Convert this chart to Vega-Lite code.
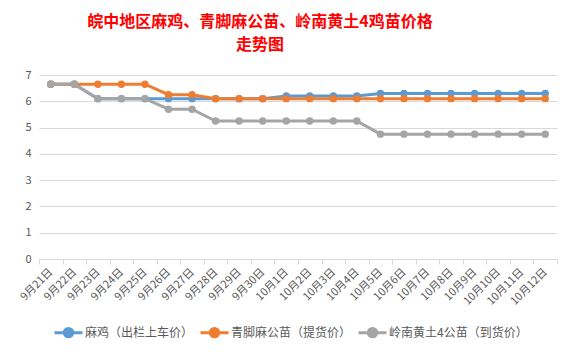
{
  "$schema": "https://vega.github.io/schema/vega-lite/v6.json",
  "width": 518,
  "height": 184,
  "autosize": {"type": "none"},
  "padding": {"left": 39, "top": 75, "right": 19, "bottom": 97},
  "background": "white",
  "config": {"font": "Noto Sans CJK SC", "view": {"stroke": null}},
  "title": {
    "text": ["皖中地区麻鸡、青脚麻公苗、岭南黄土4鸡苗价格", "走势图"],
    "color": "#FF0000",
    "fontSize": 16,
    "font": "Noto Sans CJK SC",
    "fontWeight": "bold",
    "anchor": "middle",
    "dx": -38,
    "offset": 16,
    "lineHeight": 23
  },
  "data": {
    "values": [
      {"date": "9月21日", "series": "麻鸡（出栏上车价）", "value": 6.65},
      {"date": "9月22日", "series": "麻鸡（出栏上车价）", "value": 6.65},
      {"date": "9月23日", "series": "麻鸡（出栏上车价）", "value": 6.1},
      {"date": "9月24日", "series": "麻鸡（出栏上车价）", "value": 6.1},
      {"date": "9月25日", "series": "麻鸡（出栏上车价）", "value": 6.1},
      {"date": "9月26日", "series": "麻鸡（出栏上车价）", "value": 6.1},
      {"date": "9月27日", "series": "麻鸡（出栏上车价）", "value": 6.1},
      {"date": "9月28日", "series": "麻鸡（出栏上车价）", "value": 6.1},
      {"date": "9月29日", "series": "麻鸡（出栏上车价）", "value": 6.1},
      {"date": "9月30日", "series": "麻鸡（出栏上车价）", "value": 6.1},
      {"date": "10月1日", "series": "麻鸡（出栏上车价）", "value": 6.2},
      {"date": "10月2日", "series": "麻鸡（出栏上车价）", "value": 6.2},
      {"date": "10月3日", "series": "麻鸡（出栏上车价）", "value": 6.2},
      {"date": "10月4日", "series": "麻鸡（出栏上车价）", "value": 6.2},
      {"date": "10月5日", "series": "麻鸡（出栏上车价）", "value": 6.3},
      {"date": "10月6日", "series": "麻鸡（出栏上车价）", "value": 6.3},
      {"date": "10月7日", "series": "麻鸡（出栏上车价）", "value": 6.3},
      {"date": "10月8日", "series": "麻鸡（出栏上车价）", "value": 6.3},
      {"date": "10月9日", "series": "麻鸡（出栏上车价）", "value": 6.3},
      {"date": "10月10日", "series": "麻鸡（出栏上车价）", "value": 6.3},
      {"date": "10月11日", "series": "麻鸡（出栏上车价）", "value": 6.3},
      {"date": "10月12日", "series": "麻鸡（出栏上车价）", "value": 6.3},
      {"date": "9月21日", "series": "青脚麻公苗（提货价）", "value": 6.65},
      {"date": "9月22日", "series": "青脚麻公苗（提货价）", "value": 6.65},
      {"date": "9月23日", "series": "青脚麻公苗（提货价）", "value": 6.65},
      {"date": "9月24日", "series": "青脚麻公苗（提货价）", "value": 6.65},
      {"date": "9月25日", "series": "青脚麻公苗（提货价）", "value": 6.65},
      {"date": "9月26日", "series": "青脚麻公苗（提货价）", "value": 6.25},
      {"date": "9月27日", "series": "青脚麻公苗（提货价）", "value": 6.25},
      {"date": "9月28日", "series": "青脚麻公苗（提货价）", "value": 6.1},
      {"date": "9月29日", "series": "青脚麻公苗（提货价）", "value": 6.1},
      {"date": "9月30日", "series": "青脚麻公苗（提货价）", "value": 6.1},
      {"date": "10月1日", "series": "青脚麻公苗（提货价）", "value": 6.1},
      {"date": "10月2日", "series": "青脚麻公苗（提货价）", "value": 6.1},
      {"date": "10月3日", "series": "青脚麻公苗（提货价）", "value": 6.1},
      {"date": "10月4日", "series": "青脚麻公苗（提货价）", "value": 6.1},
      {"date": "10月5日", "series": "青脚麻公苗（提货价）", "value": 6.1},
      {"date": "10月6日", "series": "青脚麻公苗（提货价）", "value": 6.1},
      {"date": "10月7日", "series": "青脚麻公苗（提货价）", "value": 6.1},
      {"date": "10月8日", "series": "青脚麻公苗（提货价）", "value": 6.1},
      {"date": "10月9日", "series": "青脚麻公苗（提货价）", "value": 6.1},
      {"date": "10月10日", "series": "青脚麻公苗（提货价）", "value": 6.1},
      {"date": "10月11日", "series": "青脚麻公苗（提货价）", "value": 6.1},
      {"date": "10月12日", "series": "青脚麻公苗（提货价）", "value": 6.1},
      {"date": "9月21日", "series": "岭南黄土4公苗（到货价）", "value": 6.65},
      {"date": "9月22日", "series": "岭南黄土4公苗（到货价）", "value": 6.65},
      {"date": "9月23日", "series": "岭南黄土4公苗（到货价）", "value": 6.1},
      {"date": "9月24日", "series": "岭南黄土4公苗（到货价）", "value": 6.1},
      {"date": "9月25日", "series": "岭南黄土4公苗（到货价）", "value": 6.1},
      {"date": "9月26日", "series": "岭南黄土4公苗（到货价）", "value": 5.7},
      {"date": "9月27日", "series": "岭南黄土4公苗（到货价）", "value": 5.7},
      {"date": "9月28日", "series": "岭南黄土4公苗（到货价）", "value": 5.25},
      {"date": "9月29日", "series": "岭南黄土4公苗（到货价）", "value": 5.25},
      {"date": "9月30日", "series": "岭南黄土4公苗（到货价）", "value": 5.25},
      {"date": "10月1日", "series": "岭南黄土4公苗（到货价）", "value": 5.25},
      {"date": "10月2日", "series": "岭南黄土4公苗（到货价）", "value": 5.25},
      {"date": "10月3日", "series": "岭南黄土4公苗（到货价）", "value": 5.25},
      {"date": "10月4日", "series": "岭南黄土4公苗（到货价）", "value": 5.25},
      {"date": "10月5日", "series": "岭南黄土4公苗（到货价）", "value": 4.75},
      {"date": "10月6日", "series": "岭南黄土4公苗（到货价）", "value": 4.75},
      {"date": "10月7日", "series": "岭南黄土4公苗（到货价）", "value": 4.75},
      {"date": "10月8日", "series": "岭南黄土4公苗（到货价）", "value": 4.75},
      {"date": "10月9日", "series": "岭南黄土4公苗（到货价）", "value": 4.75},
      {"date": "10月10日", "series": "岭南黄土4公苗（到货价）", "value": 4.75},
      {"date": "10月11日", "series": "岭南黄土4公苗（到货价）", "value": 4.75},
      {"date": "10月12日", "series": "岭南黄土4公苗（到货价）", "value": 4.75}
    ]
  },
  "encoding": {
    "x": {
      "field": "date",
      "type": "ordinal",
      "sort": null,
      "bandPosition": 0.5,
      "scale": {"type": "band", "paddingInner": 0, "paddingOuter": 0},
      "axis": {
        "title": null,
        "labelAngle": -45,
        "labelAlign": "right",
        "labelBaseline": "middle",
        "labelColor": "#595959",
        "labelFontSize": 11,
        "labelPadding": 6,
        "domainColor": "#D9D9D9",
        "tickColor": "#D9D9D9",
        "tickSize": 5,
        "tickBand": "extent",
        "grid": false
      }
    },
    "y": {
      "field": "value",
      "type": "quantitative",
      "scale": {"domain": [0, 7], "nice": false},
      "axis": {
        "title": null,
        "domain": false,
        "ticks": false,
        "values": [0, 1, 2, 3, 4, 5, 6, 7],
        "labelColor": "#595959",
        "labelFontSize": 11,
        "labelPadding": 8,
        "gridColor": "#D9D9D9",
        "gridWidth": 1
      }
    },
    "color": {
      "field": "series",
      "type": "nominal",
      "sort": null,
      "scale": {
        "domain": ["麻鸡（出栏上车价）", "青脚麻公苗（提货价）", "岭南黄土4公苗（到货价）"],
        "range": ["#5B9BD5", "#ED7D31", "#A5A5A5"]
      },
      "legend": {
        "title": null,
        "orient": "none",
        "legendX": 14,
        "legendY": 242,
        "direction": "horizontal",
        "labelFontSize": 12,
        "labelColor": "#595959",
        "symbolType": "M-1,0L1,0M-0.3,0a0.3,0.3 0 1,0 0.6,0a0.3,0.3 0 1,0 -0.6,0",
        "symbolSize": 784,
        "symbolStrokeWidth": 3,
        "labelOffset": 1,
        "columnPadding": 0
      }
    }
  },
  "layer": [
    {"mark": {"type": "line", "strokeWidth": 3}},
    {"mark": {"type": "point", "filled": true, "size": 55, "opacity": 1}}
  ]
}
